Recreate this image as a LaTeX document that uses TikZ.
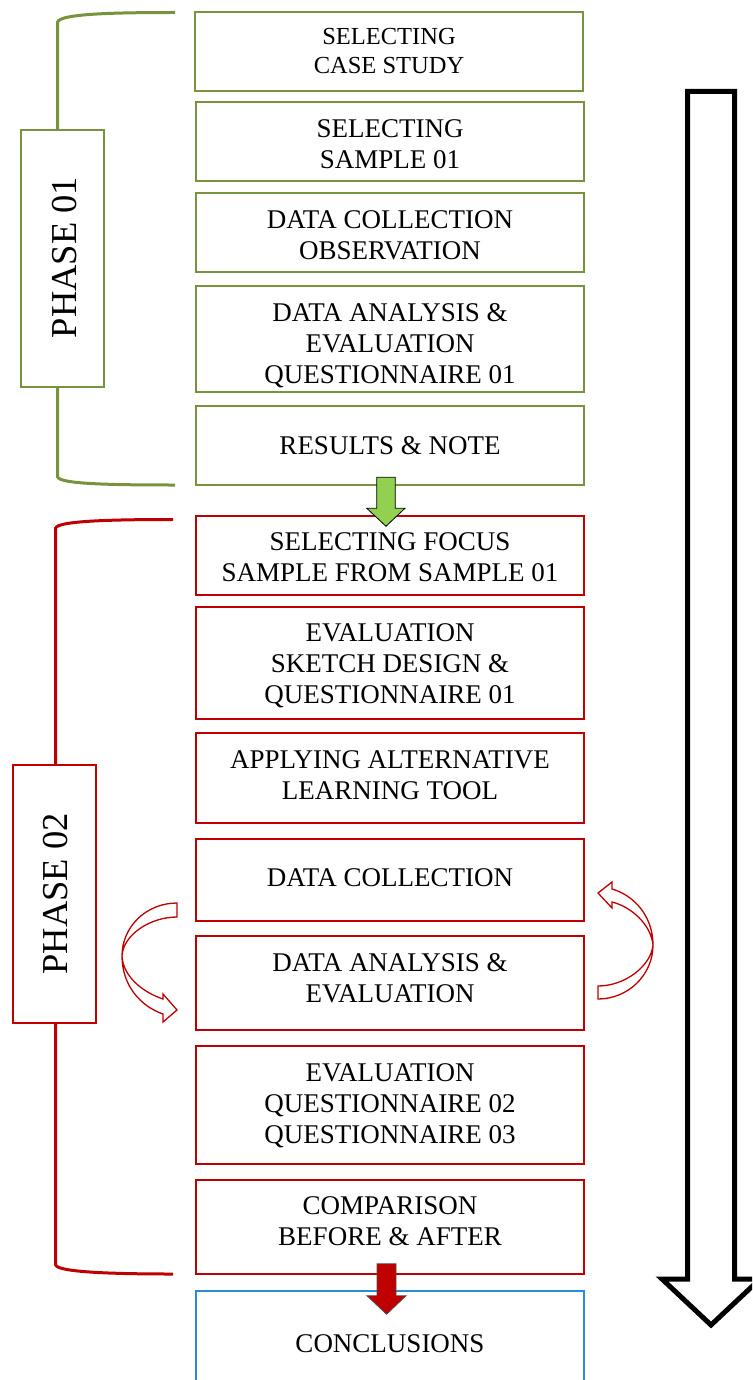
\documentclass[tikz,border=0pt]{standalone}
\usepackage{fontspec}
\setmainfont{Liberation Serif}
\usetikzlibrary{calc}
\definecolor{olivegr}{RGB}{119,147,60}
\definecolor{darkred}{RGB}{192,0,0}
\definecolor{boxblue}{RGB}{40,140,215}
\definecolor{arrgreen}{RGB}{146,208,80}
\tikzset{
  box/.style={draw, line width=1.5pt, minimum width=388pt, inner sep=0pt},
  gbox/.style={box, draw=olivegr},
  rbox/.style={box, draw=darkred},
  txt/.style={inner sep=0pt, align=center, font=\fontsize{27}{31}\selectfont},
  phasebox/.style={draw, line width=2pt, minimum width=83pt, inner sep=0pt},
  phasetxt/.style={rotate=90, inner sep=0pt, font=\fontsize{36.5}{40}\selectfont},
  brace/.style={line width=3pt},
  curvearrow/.style={draw=darkred, line width=1.3pt, fill=white, line join=miter},
}
\begin{document}
\begin{tikzpicture}[x=1pt,y=-1pt]
\useasboundingbox (0,0) rectangle (752,1380);
\clip (0,0) rectangle (752,1380);
% phase 1 boxes
\node[gbox, minimum height=79pt] (b1) at (389,51.5) {};
\node[gbox, minimum height=79pt] (b2) at (390,141.5) {};
\node[gbox, minimum height=79pt] (b3) at (390,232.5) {};
\node[gbox, minimum height=106pt] (b4) at (390,339) {};
\node[gbox, minimum height=79pt] (b5) at (390,445.5) {};
% phase 2 boxes
\node[rbox, minimum height=79pt] (b6) at (390,555.5) {};
\node[rbox, minimum height=112pt] (b7) at (390,663) {};
\node[rbox, minimum height=90pt] (b8) at (390,778) {};
\node[rbox, minimum height=82pt] (b9) at (390,880) {};
\node[rbox, minimum height=94pt] (b10) at (390,983) {};
\node[rbox, minimum height=118pt] (b11) at (390,1105) {};
\node[rbox, minimum height=94pt] (b12) at (390,1227) {};
\node[box, draw=boxblue, minimum height=104pt] (b13) at (390,1343) {};
% texts
\node[txt, font=\fontsize{24.5}{29}\selectfont] at (b1.center) {SELECTING\\CASE STUDY};
\node[txt] at ($(b2.center)+(0,3)$) {SELECTING\\SAMPLE 01};
\node[txt] at ($(b3.center)+(0,3)$) {DATA COLLECTION\\OBSERVATION};
\node[txt] at ($(b4.center)+(0,7)$) {DATA ANALYSIS \&\\EVALUATION\\QUESTIONNAIRE 01};
\node[txt] at (b5.center) {RESULTS \& NOTE};
\node[txt] at ($(b6.center)+(0,2)$) {SELECTING FOCUS\\SAMPLE FROM SAMPLE 01};
\node[txt] at ($(b7.center)+(0,3)$) {EVALUATION\\SKETCH DESIGN \&\\QUESTIONNAIRE 01};
\node[txt] at ($(b8.center)+(0,-3)$) {APPLYING ALTERNATIVE\\LEARNING TOOL};
\node[txt] at ($(b9.center)+(0,-2)$) {DATA COLLECTION};
\node[txt] at ($(b10.center)+(0,-5)$) {DATA ANALYSIS \&\\EVALUATION};
\node[txt] at ($(b11.center)+(0,1)$) {EVALUATION\\QUESTIONNAIRE 02\\QUESTIONNAIRE 03};
\node[txt] at ($(b12.center)+(0,-6)$) {COMPARISON\\BEFORE \& AFTER};
\node[txt] at ($(b13.center)+(0,1)$) {CONCLUSIONS};
% phase labels
\node[phasebox, draw=olivegr, minimum height=257pt] (p1) at (62.3,258.5) {};
\node[phasetxt] at ($(p1.center)+(2,-1)$) {PHASE 01};
\node[phasebox, draw=darkred, minimum height=258pt] (p2) at (54.2,894) {};
\node[phasetxt] at ($(p2.center)+(1,0)$) {PHASE 02};
% brackets phase 1
\coordinate (g1t) at (175,12.5);
\coordinate (g1b) at (175,485);
\draw[brace, draw=olivegr] (g1t) .. controls (110,12.5) and (60,14) .. (57.7,22) -- ($(p1.north)+(-4.6,0)$);
\draw[brace, draw=olivegr] ($(p1.south)+(-4.6,0)$) -- (57.7,477) .. controls (60,484) and (110,485) .. (g1b);
% brackets phase 2
\coordinate (r2t) at (173,519.5);
\coordinate (r2b) at (173,1274);
\draw[brace, draw=darkred] (r2t) .. controls (110,519.5) and (58,521) .. (55.7,528) -- ($(p2.north)+(1.5,0)$);
\draw[brace, draw=darkred] ($(p2.south)+(1.5,0)$) -- (55.7,1265) .. controls (58,1272) and (110,1274) .. (r2b);
% green arrow b5 -> b6
\draw[fill=arrgreen, draw=black, line width=0.8pt, line join=miter]
  ($(b5.south)+(-13.3,-8.5)$) -- ($(b5.south)+(5.3,-8.5)$) -- ($(b5.south)+(5.3,22.5)$) -- ($(b5.south)+(15,22.5)$)
  -- ($(b6.north)+(-4,11)$) -- ($(b5.south)+(-23.3,22.5)$) -- ($(b5.south)+(-13.3,22.5)$) -- cycle;
% red arrow b12 -> b13
\draw[fill=darkred, draw=black!70, line width=0.8pt, line join=miter]
  ($(b12.south)+(-13,-11)$) -- ($(b12.south)+(6,-11)$) -- ($(b12.south)+(6,21)$) -- ($(b12.south)+(16,21)$)
  -- ($(b13.north)+(-3.4,24)$) -- ($(b12.south)+(-23,21)$) -- ($(b12.south)+(-13,21)$) -- cycle;
% big black arrow
\draw[line width=5pt, line join=miter] (687.5,91.5) -- (734.5,91.5) -- (734.5,1279) -- (760,1279) -- (711,1325) -- (662,1279) -- (687.5,1279) -- cycle;
% left curved arrow (b9 -> b10)
\coordinate (la) at (177,903);
\coordinate (lb) at (177,917);
\coordinate (lm) at (122,956);
\coordinate (ltip) at (177,1010);
\draw[curvearrow] (la) .. controls (147,903) and (122,926) .. (lm)
  .. controls (122,985) and (140,1006) .. (163,1014) -- (163,1022) -- (ltip) -- (163,994) -- (163,999)
  .. controls (142,992) and (123,976) .. (lm)
  .. controls (123,935) and (150,917) .. (lb) -- cycle;
% right curved arrow (b10 -> b9)
\coordinate (ra) at (598,999);
\coordinate (rb) at (598,986);
\coordinate (rm) at (653,945);
\coordinate (rtip) at (598,893);
\draw[curvearrow] (ra) .. controls (628,999) and (653,975) .. (rm)
  .. controls (653,918) and (636,896) .. (612,889) -- (612,882) -- (rtip) -- (612,908) -- (612,902)
  .. controls (632,907) and (651,925) .. (rm)
  .. controls (651,966) and (625,986) .. (rb) -- cycle;
\end{tikzpicture}
\end{document}
